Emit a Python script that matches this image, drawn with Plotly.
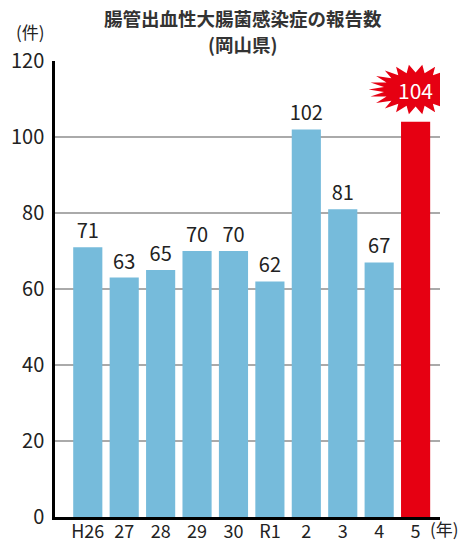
import math
import plotly.graph_objects as go

categories = ["H26", "27", "28", "29", "30", "R1", "2", "3", "4", "5"]
values = [71, 63, 65, 70, 70, 62, 102, 81, 67, 104]
title_lines = ["腸管出血性大腸菌感染症の報告数", "(岡山県)"]
y_ticks = [0, 20, 40, 60, 80, 100, 120]

BLUE = "#76bbdb"
RED = "#e60012"
FONT = "Noto Sans CJK JP"

W, H = 471, 542
L, R, T, B = 55, 31, 61, 25
PW, PH = W - L - R, H - T - B


def px_to_paper(x, y):
    return (x - L) / PW, (H - B - y) / PH


n = len(values)
xs = list(range(n))
colors = [BLUE] * (n - 1) + [RED]
texts = [str(v) for v in values[:-1]] + [""]

fig = go.Figure()
fig.add_trace(go.Bar(
    x=xs, y=values, marker=dict(color=colors, line=dict(width=0)),
    width=0.8, text=texts, textposition="outside", cliponaxis=False,
    constraintext="none",
    textfont=dict(size=20, color="#222222", family=FONT),
    hoverinfo="skip",
))

# starburst above highlighted bar
cx, cy = xs[-1], values[-1] + 8.5
rx, ry = 1.29, 6.6
spikes = 22
pts = []
for i in range(spikes * 2):
    a = math.pi * i / spikes
    r = 1.0 if i % 2 == 0 else 0.68
    pts.append((cx + rx * r * math.cos(a), cy + ry * r * math.sin(a)))
path = "M " + " L ".join(f"{px:.4f},{py:.4f}" for px, py in pts) + " Z"

anns = []
for txt, (x, y), size, bold in [
    (title_lines[0], (243, 18), 18.5, True),
    (title_lines[1], (243, 44), 18.5, True),
    ("(件)", (30, 32), 17, False),
    ("(年)", (445, 528), 17, False),
]:
    xp, yp = px_to_paper(x, y)
    anns.append(dict(text=("<b>" + txt + "</b>") if bold else txt, x=xp, y=yp,
                     xref="paper", yref="paper", xanchor="center", yanchor="middle",
                     showarrow=False,
                     font=dict(size=size, color="#333333" if bold else "#222222", family=FONT)))
anns.append(dict(text=str(values[-1]), x=cx, y=cy, xref="x", yref="y", showarrow=False,
                 font=dict(size=21, color="white", family=FONT)))

fig.update_layout(
    width=W, height=H,
    margin=dict(l=L, r=R, t=T, b=B, autoexpand=False),
    plot_bgcolor="white", paper_bgcolor="white",
    showlegend=False,
    font=dict(family=FONT, color="#222222"),
    shapes=[dict(type="path", path=path, xref="x", yref="y",
                 fillcolor=RED, line=dict(width=0), layer="above")],
    annotations=anns,
)

fig.update_xaxes(
    range=[-0.9, 9.67], tickvals=xs, ticktext=categories,
    showgrid=False, zeroline=False, showline=True, linecolor="black", linewidth=2.5,
    ticks="", ticklabelstandoff=-3,
    tickfont=dict(size=18, family=FONT, color="#222222"), fixedrange=True,
    automargin=False,
)
fig.update_yaxes(
    range=[0, 120], tickvals=y_ticks, showgrid=True, gridcolor="#aaaaaa", gridwidth=1.5,
    zeroline=False, showline=True, linecolor="black", linewidth=2.5,
    ticks="", ticklabelstandoff=4, automargin=False,
    tickfont=dict(size=20, family=FONT, color="#222222"), fixedrange=True,
)

fig.write_html("out.html")
